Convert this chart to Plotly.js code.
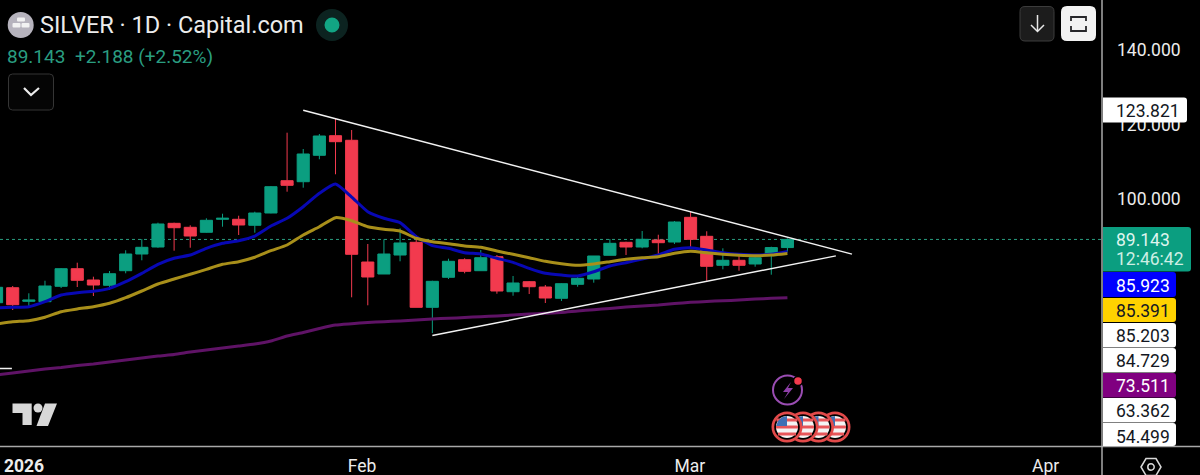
<!DOCTYPE html>
<html><head><meta charset="utf-8">
<script src="https://cdn.plot.ly/plotly-3.0.1.min.js"></script>
<style>html,body{margin:0;padding:0;background:#000;overflow:hidden}#c{width:1200px;height:475px}</style>
</head><body><div id="c"></div>
<script>
const dates = ["12-31","01-01","01-02","01-05","01-06","01-07","01-08","01-09","01-12","01-13","01-14","01-15","01-16","01-19","01-20","01-21","01-22","01-23","01-26","01-27","01-28","01-29","01-30","02-02","02-03","02-04","02-05","02-06","02-09","02-10","02-11","02-12","02-13","02-16","02-17","02-18","02-19","02-20","02-23","02-24","02-25","02-26","02-27","03-02","03-03","03-04","03-05","03-06","03-09","03-10"];
const open  = [72.16,76.18,72.53,72.43,76.56,81.29,78.25,76.83,80.75,85.23,87.11,93.47,92.40,91.06,94.55,94.55,92.94,96.24,104.91,104.64,111.73,116.99,115.76,83.08,79.86,84.96,88.37,70.92,78.98,83.70,80.75,84.51,75.11,77.80,76.37,73.34,77.10,78.52,84.88,88.37,87.11,89.00,88.45,95.08,89.98,82.20,83.54,82.55,84.78,86.96];
const high  = [76.91,76.64,74.68,78.06,81.47,82.90,79.14,80.67,86.23,89.26,93.64,93.64,92.94,94.82,96.05,95.51,96.59,103.49,117.80,113.42,117.45,121.66,118.52,87.92,89.18,92.13,90.33,78.06,83.97,84.08,86.31,84.96,79.33,77.98,76.91,77.37,79.41,84.70,89.26,88.53,91.41,90.41,94.09,96.59,91.33,86.76,85.42,84.88,87.19,89.45];
const low   = [71.54,70.20,71.08,72.30,76.10,76.37,73.96,75.57,80.05,83.54,86.92,86.12,86.92,90.95,92.56,90.33,90.95,96.16,101.96,103.03,110.66,106.63,73.61,71.46,79.86,83.27,70.92,64.00,78.52,80.05,80.75,74.57,74.03,74.49,72.08,72.61,76.45,77.53,84.88,84.96,86.76,85.23,87.92,86.58,78.06,81.12,80.75,81.82,79.68,85.85];
const close = [76.29,71.62,72.88,76.64,81.29,78.17,76.91,79.94,85.23,87.03,93.29,92.29,90.06,94.28,94.82,93.02,96.24,103.30,103.67,112.08,116.91,115.38,85.15,79.06,85.23,88.19,70.92,77.90,83.27,80.59,84.24,75.30,77.45,76.45,73.42,77.26,78.71,84.70,88.10,87.11,89.18,88.27,93.82,89.18,81.93,83.54,82.20,84.24,86.955,89.143];
const ema9  = [70.74,70.92,71.08,72.43,74.22,74.84,75.22,76.02,77.80,80.05,82.47,84.08,84.96,86.76,88.10,88.80,90.06,92.75,94.82,97.93,101.53,104.02,100.53,96.59,94.82,93.64,89.88,87.46,86.76,85.58,85.23,84.08,83.00,81.39,80.05,79.59,79.33,80.48,82.01,82.90,83.89,84.96,86.49,86.92,86.31,85.58,85.15,84.96,85.15,85.923];
const ema21 = [66.44,67.06,67.33,68.24,69.74,70.47,71.08,72.00,73.50,75.30,77.18,78.52,79.78,81.12,82.47,83.17,84.35,86.12,87.65,90.33,92.56,94.98,94.17,92.56,91.86,91.41,89.45,88.53,88.00,87.38,87.03,86.04,85.15,84.24,83.27,82.63,82.20,82.55,83.17,83.81,84.24,84.51,85.42,85.96,85.58,85.15,84.88,84.78,84.96,85.391];
const ema200= [52.75,53.28,53.82,54.36,54.76,55.30,55.70,56.24,56.78,57.31,57.85,58.25,58.92,59.46,60.00,60.53,61.07,61.88,63.22,64.16,65.23,66.17,66.52,66.84,67.06,67.24,67.51,67.78,67.99,68.18,68.40,68.59,68.86,69.12,69.31,69.53,69.93,70.28,70.60,71.00,71.27,71.54,71.94,72.26,72.48,72.69,72.88,73.15,73.34,73.511];
const upperTrendX = [19,53], upperTrendY = [123.821,85.203];
const lowerTrendX = [27,52], lowerTrendY = [63.362,84.729];
const oldLevelX = [-2,0.95], oldLevelY = [54.499,54.499];
const lastPrice = 89.143;
const yTicks = [100,120,140];
const xTickPos = [1.7,22.65,42.95,65];
const xTickText = ["<b>2026</b>","Feb","Mar","Apr"];
const idx = dates.map((d,i)=>i);

const W=1102,H=446;
const FONT="Roboto, sans-serif";
const px=x=>x/W, py=y=>1-y/H;
const UP="#0b9e80", DN="#f23a4e";
const shapes=[], notes=[];
function P(path,fill,line,w){shapes.push({type:'path',xref:'paper',yref:'paper',path,fillcolor:fill||'rgba(0,0,0,0)',line:{color:line||'rgba(0,0,0,0)',width:w||0},layer:'above'});}
const pt=(x,y)=>px(x)+','+py(y);
function poly(a,close){return 'M'+a.map(p=>pt(p[0],p[1])).join('L')+(close?'Z':'');}
function rrect(x0,y0,x1,y1,r,rl){
  const l=rl?0:r;
  return 'M'+pt(x0+l,y0)+'L'+pt(x1-r,y0)+'Q'+pt(x1,y0)+' '+pt(x1,y0+r)+'L'+pt(x1,y1-r)+'Q'+pt(x1,y1)+' '+pt(x1-r,y1)+'L'+pt(x0+l,y1)+(l?'Q'+pt(x0,y1)+' '+pt(x0,y1-l)+'L'+pt(x0,y0+l)+'Q'+pt(x0,y0)+' '+pt(x0+l,y0):'')+'Z';
}
function circ(cx,cy,r,fill,line,w){shapes.push({type:'circle',xref:'paper',yref:'paper',x0:px(cx-r),x1:px(cx+r),y0:py(cy+r),y1:py(cy-r),fillcolor:fill||'rgba(0,0,0,0)',line:{color:line||'rgba(0,0,0,0)',width:w||0},layer:'above'});}
function T(x,y,text,color,size,anchor){notes.push({xref:'paper',yref:'paper',x:px(x),y:py(y),text,showarrow:false,xanchor:anchor||'left',yanchor:'middle',font:{family:FONT,size:size||17.5,color},borderpad:0,borderwidth:0});}

shapes.push({type:'line',xref:'paper',yref:'y',x0:0,x1:1,y0:lastPrice,y1:lastPrice,line:{color:'#2a9d80',width:1,dash:'dot'},layer:'below'});
P(poly([[1102,0],[1102,475]]),null,'#a8a8a8',1.5);
P(poly([[0,446.5],[1200,446.5]]),null,'#a8a8a8',1.5);

const tag=(y0,y1,x1,fill,r)=>P(rrect(1103,y0,x1,y1,r||3,true),fill);
tag(97.5,122.5,1187,'#ffffff');
T(1116,110.5,'123.821','#131722');
tag(227,271.5,1191,UP);
T(1116,240,'89.143','#dff5ee');
T(1116,258.5,'12:46:42','#cdeee4');
tag(272,297,1176,'#0000ff');  T(1116,285.5,'85.923','#ffffff');
tag(298,322,1176,'#ffd200');  T(1116,310.5,'85.391','#131722');
tag(323,347.5,1176,'#ffffff');T(1116,335.5,'85.203','#131722');
tag(348,372.5,1176,'#ffffff');T(1116,361,'84.729','#131722');
tag(373,397.5,1176,'#800080');T(1116,385.5,'73.511','#ffffff');
tag(398,422.5,1176,'#ffffff');T(1116,411,'63.362','#131722');
tag(423,446,1176,'#ffffff');  T(1116,436.5,'54.499','#131722');

circ(20.7,25,13,'#b6b3bd');
P(rrect(17,17.5,25,21.5,1),'#f2f2f2');
P(rrect(12.5,23,20.5,27.5,1),'#f2f2f2');
P(rrect(21.5,23,29.5,27.5,1),'#f2f2f2');
T(40,25,'SILVER · 1D · Capital.com','#ececec',23.5);
circ(332,25,16,'#0c2320');
circ(332,25,7.5,'#12a583');
T(7,56.5,'89.143','#2a9d80',19);
T(75,56.5,'+2.188 (+2.52%)','#2a9d80',19);
P(rrect(8.5,74,53.5,110,4),'#050505','#353535',1);
P(poly([[24,88],[31,95],[39,88]]),null,'#ececec',2.2);

P(rrect(1020,6.5,1054,41,5),'#1c1c1c','#3c3c3c',1);
P(poly([[1037.5,15],[1037.5,31]]),null,'#e8e8e8',1.5);
P(poly([[1031,25],[1037.5,31.5],[1044,25]]),null,'#e8e8e8',1.5);
P(rrect(1061,6,1096,41,6),'#f2f2f2');
[[[1071,21],[1071,17],[1086,17],[1086,21]],[[1071,26],[1071,31],[1086,31],[1086,26]]].forEach(a=>P(poly(a),null,'#26262a',1.8));

P(poly([[12.5,403.5],[31.7,403.5],[31.7,425],[22.5,425],[22.5,413],[12.5,413]],true),'#d8d8d8');
circ(38,408,4.5,'#d8d8d8');
P(poly([[45,403.5],[57,403.5],[48,426],[36.5,426]],true),'#d8d8d8');

circ(787.5,390,14.5,'#000','#9a4db3',2);
P(poly([[791,382],[783,392],[788,392],[784,399],[793,388],[788,388]],true),'#8e3fa8');
circ(798,381,4.5,DN,'#000',1.5);

[835,818.5,803,787].forEach(cx=>{
  const cy=427;
  circ(cx,cy,15.5,'#e24a4a');
  circ(cx,cy,12.8,'#000');
  circ(cx,cy,11,'#f4f4f4');
  P(rrect(cx-10.5,cy-8.6,cx+10.5,cy-5.4,.5),'#e8565a');
  P(rrect(cx-11,cy-1.6,cx+11,cy+1.6,.5),'#e8565a');
  P(rrect(cx-9,cy+5.4,cx+9,cy+8.6,.5),'#e8565a');
  P(poly([[cx-10.8,cy-1],[cx,cy-1],[cx,cy-11],[cx-5,cy-9.8],[cx-9,cy-6]],true),'#3f6fb5');
});

P(poly([[1141,467],[1146,458.5],[1156,458.5],[1161,467],[1156,475.5],[1146,475.5]],true),null,'#d8d8d8',1.5);
circ(1151,467,3.2,null,'#d8d8d8',1.5);

const ln=(y,color,w,name)=>({type:'scatter',mode:'lines',x:idx,y,name,line:{color,width:w,shape:'spline',smoothing:.5},hoverinfo:'skip'});
const tr=(x,y)=>({type:'scatter',mode:'lines',x,y,line:{color:'#f2f2f2',width:1.5},hoverinfo:'skip'});
const data=[
  ln(ema200,'#5f1366',3,'EMA 200'),
  ln(ema9,'#0808b4',3,'EMA 9'),
  ln(ema21,'#a88f1a',3,'EMA 21'),
  {type:'candlestick',x:idx,open,high,low,close,
   increasing:{line:{color:UP,width:1},fillcolor:UP},
   decreasing:{line:{color:DN,width:1},fillcolor:DN},
   whiskerwidth:0,hoverinfo:'skip'},
  tr(upperTrendX,upperTrendY),
  tr(lowerTrendX,lowerTrendY),
  tr(oldLevelX,oldLevelY)
];
const layout={
  width:1200,height:475,margin:{l:0,r:98,t:0,b:29,pad:0},
  paper_bgcolor:'#000',plot_bgcolor:'#000',showlegend:false,hovermode:false,dragmode:false,
  boxmode:'overlay',boxgap:0.25,boxgroupgap:0,
  xaxis:{type:'linear',range:[0.213,68.49],rangeslider:{visible:false},tickmode:'array',tickvals:xTickPos,ticktext:xTickText,
    showgrid:false,zeroline:false,showline:false,ticks:'',tickfont:{family:FONT,size:17.5,color:'#ececec'},ticklabelstandoff:7},
  yaxis:{type:'linear',side:'right',range:[33.69,153.42],tickmode:'array',tickvals:yTicks,tickformat:'.3f',
    showgrid:false,zeroline:false,showline:false,ticks:'',tickfont:{family:FONT,size:17.5,color:'#ececec'},ticklabelstandoff:14},
  shapes,annotations:notes
};
Plotly.newPlot('c',data,layout,{displayModeBar:false,staticPlot:true});
</script></body></html>
